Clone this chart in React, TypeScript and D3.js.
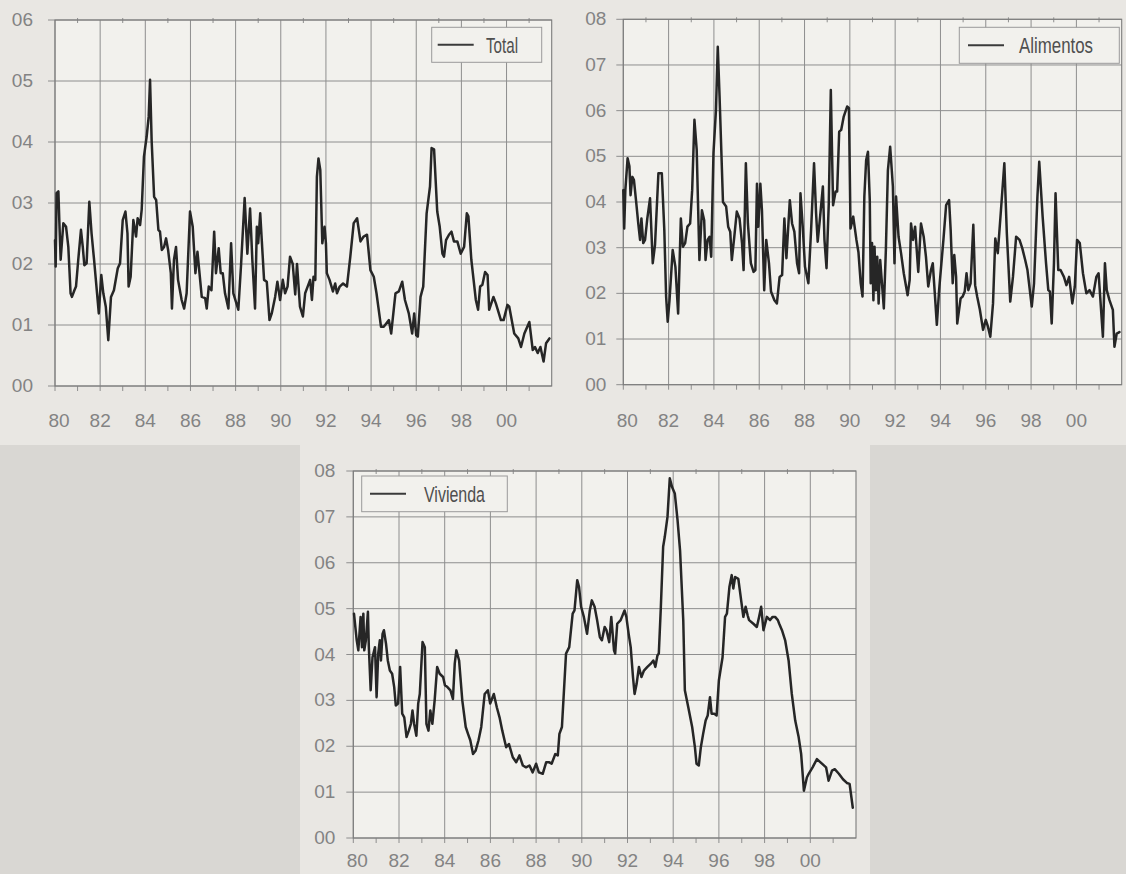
import React from 'react';
import * as d3 from 'd3';

// x positions are years since 1980 (decimal), values are the share shown on the y axis
const totalSeries: [number, number][] = [
  [0.0, 0.239], [0.03, 0.196], [0.07, 0.316], [0.15, 0.319], [0.19, 0.272], [0.25, 0.207],
  [0.37, 0.267], [0.49, 0.261], [0.59, 0.228], [0.69, 0.152], [0.75, 0.146], [0.86, 0.157],
  [0.93, 0.163], [1.03, 0.207], [1.15, 0.256], [1.23, 0.228], [1.3, 0.198], [1.4, 0.201],
  [1.52, 0.302], [1.62, 0.25], [1.73, 0.207], [1.85, 0.157], [1.94, 0.119], [2.05, 0.182],
  [2.14, 0.152], [2.25, 0.13], [2.36, 0.075], [2.48, 0.146], [2.61, 0.157], [2.78, 0.193],
  [2.88, 0.201], [3.0, 0.272], [3.12, 0.286], [3.21, 0.25], [3.26, 0.163], [3.35, 0.179],
  [3.47, 0.272], [3.59, 0.245], [3.66, 0.275], [3.77, 0.264], [3.84, 0.289], [3.94, 0.376],
  [4.06, 0.409], [4.15, 0.442], [4.21, 0.502], [4.28, 0.403], [4.39, 0.31], [4.48, 0.305],
  [4.58, 0.256], [4.65, 0.253], [4.73, 0.223], [4.83, 0.228], [4.92, 0.242], [5.01, 0.223],
  [5.13, 0.185], [5.18, 0.127], [5.27, 0.207], [5.36, 0.228], [5.45, 0.174], [5.61, 0.141],
  [5.72, 0.127], [5.83, 0.152], [5.98, 0.286], [6.1, 0.261], [6.22, 0.185], [6.31, 0.22],
  [6.4, 0.185], [6.5, 0.146], [6.65, 0.144], [6.72, 0.127], [6.81, 0.163], [6.93, 0.157],
  [7.05, 0.253], [7.13, 0.185], [7.25, 0.226], [7.34, 0.185], [7.43, 0.185], [7.53, 0.152],
  [7.68, 0.127], [7.8, 0.234], [7.9, 0.152], [8.12, 0.125], [8.24, 0.198], [8.4, 0.308],
  [8.52, 0.217], [8.64, 0.291], [8.74, 0.207], [8.86, 0.127], [8.94, 0.261], [9.0, 0.234],
  [9.09, 0.283], [9.26, 0.174], [9.38, 0.171], [9.5, 0.108], [9.6, 0.119], [9.75, 0.146],
  [9.85, 0.171], [9.97, 0.141], [10.09, 0.174], [10.19, 0.152], [10.3, 0.163], [10.41, 0.212],
  [10.53, 0.2], [10.64, 0.15], [10.72, 0.2], [10.85, 0.13], [10.98, 0.114], [11.08, 0.152],
  [11.19, 0.163], [11.3, 0.174], [11.38, 0.141], [11.45, 0.179], [11.53, 0.174], [11.6, 0.343],
  [11.67, 0.373], [11.75, 0.354], [11.84, 0.234], [11.94, 0.261], [12.0, 0.234], [12.04, 0.185],
  [12.16, 0.174], [12.31, 0.155], [12.41, 0.168], [12.49, 0.152], [12.61, 0.163], [12.76, 0.168],
  [12.93, 0.163], [13.08, 0.212], [13.23, 0.267], [13.38, 0.275], [13.53, 0.237], [13.67, 0.245],
  [13.82, 0.248], [13.97, 0.19], [14.12, 0.179], [14.24, 0.152], [14.44, 0.097], [14.56, 0.097],
  [14.79, 0.108], [14.89, 0.086], [15.08, 0.152], [15.23, 0.155], [15.38, 0.171], [15.5, 0.141],
  [15.67, 0.119], [15.82, 0.086], [15.91, 0.119], [16.0, 0.083], [16.07, 0.081], [16.19, 0.146],
  [16.31, 0.163], [16.46, 0.283], [16.61, 0.327], [16.68, 0.39], [16.79, 0.388], [16.93, 0.286],
  [17.04, 0.261], [17.16, 0.217], [17.23, 0.212], [17.32, 0.239], [17.45, 0.248], [17.56, 0.253],
  [17.67, 0.237], [17.82, 0.237], [17.97, 0.217], [18.12, 0.228], [18.24, 0.283], [18.31, 0.278],
  [18.44, 0.207], [18.64, 0.141], [18.74, 0.125], [18.83, 0.163], [18.93, 0.166], [19.05, 0.187],
  [19.16, 0.182], [19.23, 0.125], [19.42, 0.146], [19.53, 0.135], [19.75, 0.108], [19.87, 0.108],
  [20.04, 0.133], [20.12, 0.13], [20.34, 0.086], [20.52, 0.078], [20.64, 0.064], [20.79, 0.086],
  [21.01, 0.105], [21.16, 0.059], [21.26, 0.064], [21.38, 0.054], [21.5, 0.064], [21.64, 0.04],
  [21.75, 0.07], [21.9, 0.078],
];

const alimentosSeries: [number, number][] = [
  [0.0, 0.426], [0.04, 0.342], [0.09, 0.426], [0.19, 0.496], [0.27, 0.478], [0.32, 0.415],
  [0.4, 0.455], [0.47, 0.448], [0.56, 0.404], [0.66, 0.353], [0.74, 0.317], [0.8, 0.364],
  [0.88, 0.31], [0.96, 0.317], [1.06, 0.364], [1.18, 0.408], [1.3, 0.266], [1.4, 0.306],
  [1.55, 0.463], [1.7, 0.463], [1.81, 0.339], [1.89, 0.193], [1.96, 0.138], [2.04, 0.185],
  [2.18, 0.295], [2.3, 0.258], [2.42, 0.156], [2.54, 0.364], [2.63, 0.302], [2.73, 0.31],
  [2.83, 0.346], [2.95, 0.353], [3.04, 0.426], [3.14, 0.58], [3.24, 0.514], [3.36, 0.273],
  [3.47, 0.382], [3.57, 0.36], [3.63, 0.273], [3.72, 0.317], [3.81, 0.324], [3.88, 0.28],
  [3.98, 0.507], [4.09, 0.601], [4.17, 0.74], [4.25, 0.63], [4.4, 0.4], [4.54, 0.39],
  [4.63, 0.346], [4.72, 0.335], [4.79, 0.273], [4.9, 0.324], [5.01, 0.379], [5.13, 0.364],
  [5.24, 0.31], [5.31, 0.251], [5.41, 0.485], [5.5, 0.353], [5.63, 0.266], [5.75, 0.247],
  [5.83, 0.251], [5.9, 0.44], [5.96, 0.346], [6.05, 0.44], [6.12, 0.382], [6.22, 0.207],
  [6.31, 0.317], [6.43, 0.266], [6.52, 0.204], [6.67, 0.185], [6.78, 0.178], [6.9, 0.236],
  [7.01, 0.24], [7.11, 0.364], [7.2, 0.277], [7.35, 0.404], [7.45, 0.353], [7.55, 0.335],
  [7.67, 0.266], [7.76, 0.244], [7.82, 0.419], [7.92, 0.346], [8.02, 0.258], [8.17, 0.222],
  [8.29, 0.339], [8.42, 0.485], [8.51, 0.375], [8.58, 0.313], [8.66, 0.353], [8.81, 0.434],
  [8.88, 0.317], [8.97, 0.255], [9.07, 0.397], [9.16, 0.645], [9.26, 0.393], [9.37, 0.423],
  [9.44, 0.423], [9.53, 0.554], [9.62, 0.558], [9.73, 0.587], [9.88, 0.609], [9.96, 0.606],
  [10.03, 0.342], [10.15, 0.368], [10.29, 0.317], [10.38, 0.29], [10.48, 0.222], [10.56, 0.193],
  [10.64, 0.412], [10.72, 0.492], [10.8, 0.51], [10.88, 0.404], [10.92, 0.222], [10.98, 0.31],
  [11.04, 0.185], [11.09, 0.302], [11.15, 0.207], [11.21, 0.28], [11.27, 0.178], [11.34, 0.273],
  [11.5, 0.167], [11.59, 0.295], [11.68, 0.47], [11.78, 0.521], [11.9, 0.434], [11.97, 0.266],
  [12.04, 0.412], [12.15, 0.324], [12.26, 0.288], [12.38, 0.244], [12.55, 0.196], [12.64, 0.229],
  [12.7, 0.353], [12.79, 0.317], [12.88, 0.346], [13.02, 0.247], [13.14, 0.353], [13.26, 0.324],
  [13.36, 0.28], [13.46, 0.215], [13.58, 0.251], [13.66, 0.266], [13.75, 0.2], [13.84, 0.131],
  [13.94, 0.207], [14.13, 0.317], [14.25, 0.393], [14.38, 0.404], [14.45, 0.339], [14.54, 0.222],
  [14.61, 0.284], [14.69, 0.236], [14.74, 0.134], [14.89, 0.189], [14.98, 0.193], [15.07, 0.204],
  [15.15, 0.244], [15.23, 0.207], [15.33, 0.222], [15.45, 0.35], [15.53, 0.218], [15.62, 0.193],
  [15.74, 0.164], [15.88, 0.12], [16.0, 0.142], [16.09, 0.128], [16.2, 0.105], [16.32, 0.178],
  [16.42, 0.32], [16.53, 0.288], [16.67, 0.382], [16.82, 0.485], [16.93, 0.331], [17.08, 0.182],
  [17.2, 0.236], [17.34, 0.324], [17.49, 0.317], [17.61, 0.299], [17.74, 0.273], [17.84, 0.251],
  [18.03, 0.171], [18.13, 0.222], [18.28, 0.412], [18.36, 0.488], [18.51, 0.368], [18.66, 0.266],
  [18.76, 0.207], [18.83, 0.204], [18.91, 0.134], [19.01, 0.266], [19.08, 0.419], [19.2, 0.251],
  [19.3, 0.251], [19.45, 0.236], [19.56, 0.218], [19.68, 0.236], [19.82, 0.178], [19.93, 0.215],
  [20.03, 0.317], [20.15, 0.31], [20.29, 0.244], [20.44, 0.2], [20.58, 0.207], [20.73, 0.193],
  [20.88, 0.236], [20.98, 0.244], [21.17, 0.105], [21.26, 0.266], [21.34, 0.207], [21.46, 0.185],
  [21.61, 0.164], [21.68, 0.083], [21.78, 0.112], [21.9, 0.115],
];

const viviendaSeries: [number, number][] = [
  [0.03, 0.489], [0.15, 0.431], [0.22, 0.409], [0.32, 0.482], [0.38, 0.416], [0.44, 0.489],
  [0.48, 0.409], [0.55, 0.431], [0.64, 0.493], [0.68, 0.416], [0.76, 0.322], [0.84, 0.394],
  [0.95, 0.416], [1.02, 0.307], [1.09, 0.402], [1.16, 0.431], [1.21, 0.387], [1.28, 0.445],
  [1.34, 0.453], [1.43, 0.424], [1.51, 0.387], [1.6, 0.365], [1.7, 0.358], [1.79, 0.329],
  [1.86, 0.289], [1.96, 0.293], [2.05, 0.373], [2.14, 0.271], [2.23, 0.263], [2.33, 0.22],
  [2.43, 0.234], [2.52, 0.249], [2.59, 0.278], [2.66, 0.249], [2.76, 0.223], [2.84, 0.293],
  [2.91, 0.314], [3.03, 0.427], [3.13, 0.416], [3.2, 0.249], [3.29, 0.234], [3.37, 0.278],
  [3.46, 0.249], [3.56, 0.3], [3.67, 0.373], [3.78, 0.358], [3.93, 0.351], [4.01, 0.333],
  [4.12, 0.329], [4.25, 0.322], [4.36, 0.303], [4.44, 0.38], [4.51, 0.409], [4.63, 0.387],
  [4.77, 0.3], [4.92, 0.242], [5.02, 0.227], [5.12, 0.213], [5.24, 0.183], [5.35, 0.19],
  [5.48, 0.213], [5.6, 0.242], [5.75, 0.314], [5.89, 0.322], [5.99, 0.293], [6.15, 0.314],
  [6.28, 0.285], [6.4, 0.263], [6.52, 0.234], [6.69, 0.198], [6.81, 0.205], [6.98, 0.176],
  [7.13, 0.165], [7.27, 0.18], [7.42, 0.158], [7.56, 0.154], [7.71, 0.158], [7.85, 0.143],
  [8.0, 0.162], [8.12, 0.143], [8.29, 0.14], [8.44, 0.165], [8.58, 0.165], [8.68, 0.162],
  [8.84, 0.183], [8.95, 0.18], [9.02, 0.227], [9.13, 0.242], [9.31, 0.402], [9.45, 0.416],
  [9.6, 0.489], [9.68, 0.496], [9.8, 0.562], [9.88, 0.547], [9.97, 0.504], [10.09, 0.482],
  [10.23, 0.445], [10.35, 0.496], [10.44, 0.518], [10.56, 0.504], [10.67, 0.475], [10.79, 0.438],
  [10.88, 0.431], [11.0, 0.46], [11.08, 0.453], [11.2, 0.427], [11.29, 0.482], [11.41, 0.409],
  [11.46, 0.402], [11.55, 0.467], [11.7, 0.475], [11.87, 0.496], [11.95, 0.482], [12.05, 0.445],
  [12.14, 0.416], [12.24, 0.351], [12.31, 0.314], [12.4, 0.336], [12.5, 0.373], [12.61, 0.351],
  [12.72, 0.365], [12.87, 0.373], [13.02, 0.38], [13.13, 0.387], [13.22, 0.373], [13.31, 0.398],
  [13.37, 0.402], [13.46, 0.504], [13.56, 0.635], [13.63, 0.656], [13.75, 0.7], [13.85, 0.784],
  [13.95, 0.765], [14.07, 0.751], [14.19, 0.693], [14.3, 0.627], [14.44, 0.475], [14.51, 0.322],
  [14.66, 0.285], [14.83, 0.242], [14.95, 0.198], [15.02, 0.162], [15.12, 0.158], [15.21, 0.198],
  [15.31, 0.227], [15.42, 0.256], [15.51, 0.267], [15.61, 0.307], [15.68, 0.271], [15.8, 0.271],
  [15.9, 0.267], [16.0, 0.344], [16.16, 0.394], [16.27, 0.482], [16.35, 0.489], [16.46, 0.547],
  [16.56, 0.573], [16.63, 0.544], [16.71, 0.569], [16.85, 0.565], [17.07, 0.482], [17.17, 0.504],
  [17.26, 0.485], [17.32, 0.475], [17.51, 0.467], [17.66, 0.46], [17.76, 0.482], [17.85, 0.504],
  [17.95, 0.453], [18.1, 0.482], [18.24, 0.475], [18.35, 0.482], [18.46, 0.482], [18.58, 0.475],
  [18.64, 0.467], [18.76, 0.453], [18.9, 0.431], [19.05, 0.387], [19.19, 0.314], [19.34, 0.256],
  [19.49, 0.22], [19.6, 0.183], [19.72, 0.103], [19.85, 0.132], [19.93, 0.14], [20.1, 0.154],
  [20.29, 0.172], [20.51, 0.162], [20.69, 0.154], [20.8, 0.125], [20.95, 0.147], [21.07, 0.15],
  [21.25, 0.14], [21.43, 0.128], [21.6, 0.12], [21.72, 0.118], [21.86, 0.066],
];

const startYear = 1980;
const endYear = 2002;
const labelYears = [1980, 1982, 1984, 1986, 1988, 1990, 1992, 1994, 1996, 1998, 2000];
const yearLabels = ['80', '82', '84', '86', '88', '90', '92', '94', '96', '98', '00'];
const ticksSix = [0, 0.1, 0.2, 0.3, 0.4, 0.5, 0.6];
const labelsSix = ['00', '01', '02', '03', '04', '05', '06'];
const ticksEight = [0, 0.1, 0.2, 0.3, 0.4, 0.5, 0.6, 0.7, 0.8];
const labelsEight = ['00', '01', '02', '03', '04', '05', '06', '07', '08'];

const LINE = '#262626';
const GRID = '#8e8e8e';
const LABEL = '#838383';
const PLOT_BG = '#f2f1ed';

const panels = [
  {
    name: 'Total', series: totalSeries, yMax: 0.6, ticks: ticksSix, labels: labelsSix,
    left: 55, right: 551.7, top: 20, bottom: 386, yGap: 22, xLabelDy: 36,
    legend: { x: 376.7, y: 7.3, w: 110, h: 35, line0: 6, line1: 42, text: 54.3, textLen: 32 },
  },
  {
    name: 'Alimentos', series: alimentosSeries, yMax: 0.8, ticks: ticksEight, labels: labelsEight,
    left: 623.3, right: 1121.7, top: 19.3, bottom: 384.7, yGap: 17, xLabelDy: 37,
    legend: { x: 336, y: 8, w: 160, h: 36, line0: 8.7, line1: 44.7, text: 59.7, textLen: 74 },
  },
  {
    name: 'Vivienda', series: viviendaSeries, yMax: 0.8, ticks: ticksEight, labels: labelsEight,
    left: 353.3, right: 856, top: 471, bottom: 838, yGap: 18, xLabelDy: 24,
    legend: { x: 8.4, y: 5, w: 145.6, h: 35.7, line0: 8.3, line1: 44.3, text: 62.3, textLen: 61 },
  },
];

function Panel({ p }: { p: typeof panels[number] }) {
  const x = d3.scaleLinear().domain([startYear, endYear]).range([p.left, p.right]);
  const y = d3.scaleLinear().domain([0, p.yMax]).range([p.bottom, p.top]);
  const line = d3.line<[number, number]>()
    .x(d => x(startYear + d[0]))
    .y(d => y(d[1]));
  const allYears = d3.range(startYear, endYear);
  const lg = p.legend;
  const lx = p.left + lg.x;
  const ly = p.top + lg.y;

  return (
    <g>
      <rect x={p.left} y={p.top} width={p.right - p.left} height={p.bottom - p.top} fill={PLOT_BG} />
      {p.ticks.map(t => (
        <line key={'h' + t} x1={p.left - 7} x2={p.right} y1={y(t)} y2={y(t)} stroke={GRID} strokeWidth={1} />
      ))}
      {labelYears.map(yr => (
        <line key={'v' + yr} x1={x(yr)} x2={x(yr)} y1={p.top} y2={p.bottom + 5} stroke={GRID} strokeWidth={1} />
      ))}
      {allYears.filter(yr => yr % 2 === 1).map(yr => (
        <g key={'m' + yr}>
          <line x1={x(yr)} x2={x(yr)} y1={p.bottom} y2={p.bottom + 5} stroke={GRID} strokeWidth={1} />
          <line x1={x(yr)} x2={x(yr)} y1={p.top - 2} y2={p.top + 3} stroke={GRID} strokeWidth={1} />
        </g>
      ))}
      <rect x={p.left} y={p.top} width={p.right - p.left} height={p.bottom - p.top}
        fill="none" stroke="#7c7c7c" strokeWidth={1.1} />
      <path d={line(p.series) || ''} fill="none" stroke={LINE} strokeWidth={2.5}
        strokeLinejoin="round" strokeLinecap="round" />
      {p.ticks.map((t, i) => (
        <text key={'yl' + t} x={p.left - p.yGap} y={y(t) + 1} textAnchor="end" dominantBaseline="middle"
          fontSize={19} fill={LABEL} fontFamily="'Liberation Sans', Arial, sans-serif">
          {p.labels[i]}
        </text>
      ))}
      {labelYears.map((yr, i) => (
        <text key={'xl' + yr} x={x(yr) + (i === 0 ? 4 : 0)} y={p.bottom + p.xLabelDy} textAnchor="middle"
          dominantBaseline="middle" fontSize={19} fill={LABEL} fontFamily="'Liberation Sans', Arial, sans-serif">
          {yearLabels[i]}
        </text>
      ))}
      <rect x={lx} y={ly} width={lg.w} height={lg.h} fill={PLOT_BG} stroke="#9a9a9a" strokeWidth={1} />
      <line x1={lx + lg.line0} x2={lx + lg.line1} y1={ly + lg.h / 2} y2={ly + lg.h / 2} stroke="#3a3a3a" strokeWidth={2} />
      <text x={lx + lg.text} y={ly + lg.h / 2 + 8} fontSize={22} fill="#4f4f4f"
        textLength={lg.textLen} lengthAdjust="spacingAndGlyphs"
        fontFamily="'Liberation Sans Narrow', 'Liberation Sans', Arial, sans-serif">
        {p.name}
      </text>
    </g>
  );
}

export default function App() {
  return (
    <svg width={1126} height={874} style={{ position: 'absolute', left: 0, top: 0, display: 'block' }}>
      <rect x={0} y={0} width={1126} height={874} fill="#d9d7d3" />
      <rect x={0} y={0} width={1126} height={445} fill="#e9e7e3" />
      <rect x={300} y={445} width={570} height={429} fill="#e9e7e3" />
      {panels.map(p => <Panel key={p.name} p={p} />)}
    </svg>
  );
}
